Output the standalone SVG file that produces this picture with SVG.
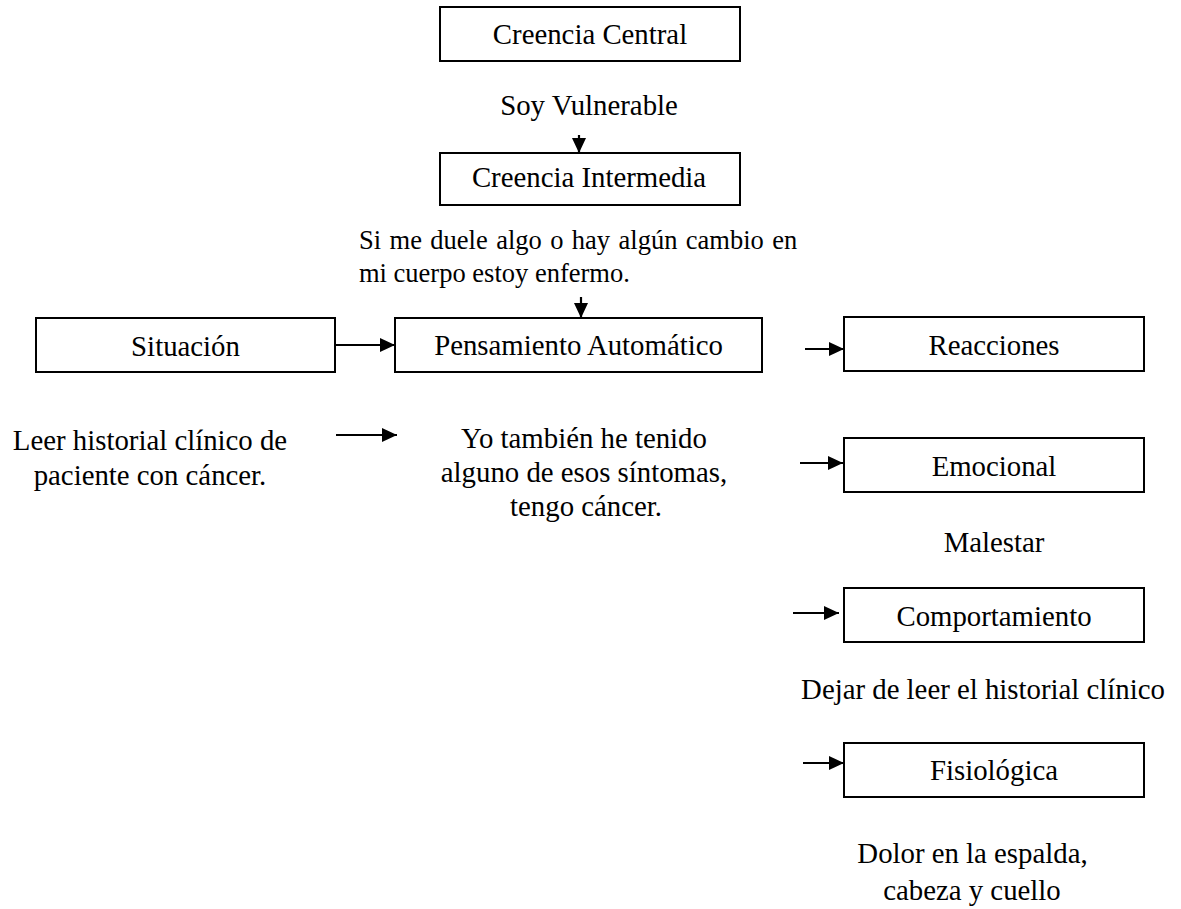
<svg xmlns="http://www.w3.org/2000/svg" width="1181" height="909" viewBox="0 0 1181 909">
<style>
.box{fill:#fff;stroke:#000;stroke-width:2}
.t{font-family:"Liberation Serif","Times New Roman",serif;font-size:28.8px;fill:#000;text-anchor:middle}
.s{font-family:"Liberation Serif","Times New Roman",serif;font-size:26.5px;fill:#000}
.c{stroke:#000;stroke-width:2.2;fill:none;marker-end:url(#ah)}
</style>
<defs>
<marker id="ah" markerUnits="userSpaceOnUse" markerWidth="15" markerHeight="14" refX="15" refY="7" orient="auto">
<path d="M0,0 L15,7 L0,14 z" fill="#000"/>
</marker>
</defs>
<rect width="1181" height="909" fill="#fff"/>
<g id="connectors">
<line class="c" x1="579" y1="135" x2="579" y2="153"/>
<line class="c" x1="581" y1="297" x2="581" y2="318"/>
<line class="c" x1="336" y1="345" x2="395" y2="345"/>
<line class="c" x1="805" y1="349" x2="844" y2="349"/>
<line class="c" x1="336" y1="435" x2="397" y2="435"/>
<line class="c" x1="800" y1="463" x2="843" y2="463"/>
<line class="c" x1="793" y1="613" x2="839" y2="613"/>
<line class="c" x1="803" y1="763" x2="844" y2="763"/>
</g>
<g id="creencia-central">
<rect class="box" x="440" y="7" width="300" height="54"/>
<text class="t" x="590" y="44">Creencia Central</text>
</g>
<g id="soy-vulnerable">
<text class="t" x="589" y="115">Soy Vulnerable</text>
</g>
<g id="creencia-intermedia">
<rect class="box" x="440" y="153" width="300" height="52"/>
<text class="t" x="589" y="187">Creencia Intermedia</text>
</g>
<g id="creencia-intermedia-texto">
<text class="s" x="359" y="249" word-spacing="1.8">Si me duele algo o hay algún cambio en</text>
<text class="s" x="359" y="282">mi cuerpo estoy enfermo.</text>
</g>
<g id="situacion">
<rect class="box" x="36" y="318" width="299" height="54"/>
<text class="t" x="185.5" y="356">Situación</text>
</g>
<g id="pensamiento">
<rect class="box" x="395" y="318" width="367" height="54"/>
<text class="t" x="578.5" y="355">Pensamiento Automático</text>
</g>
<g id="reacciones">
<rect class="box" x="844" y="317" width="300" height="54"/>
<text class="t" x="994" y="355">Reacciones</text>
</g>
<g id="situacion-texto">
<text class="t" x="150" y="450">Leer historial clínico de</text>
<text class="t" x="150" y="485">paciente con cáncer.</text>
</g>
<g id="pensamiento-texto">
<text class="t" x="584" y="448">Yo también he tenido</text>
<text class="t" x="584" y="482">alguno de esos síntomas,</text>
<text class="t" x="586" y="516">tengo cáncer.</text>
</g>
<g id="emocional">
<rect class="box" x="844" y="438" width="300" height="54"/>
<text class="t" x="994" y="476">Emocional</text>
</g>
<g id="malestar">
<text class="t" x="994" y="552">Malestar</text>
</g>
<g id="comportamiento">
<rect class="box" x="844" y="588" width="300" height="54"/>
<text class="t" x="994" y="626">Comportamiento</text>
</g>
<g id="dejar">
<text class="t" x="983" y="699">Dejar de leer el historial clínico</text>
</g>
<g id="fisiologica">
<rect class="box" x="844" y="743" width="300" height="54"/>
<text class="t" x="994" y="780">Fisiológica</text>
</g>
<g id="dolor">
<text class="t" x="972.5" y="863">Dolor en la espalda,</text>
<text class="t" x="972" y="900">cabeza y cuello</text>
</g>
</svg>
